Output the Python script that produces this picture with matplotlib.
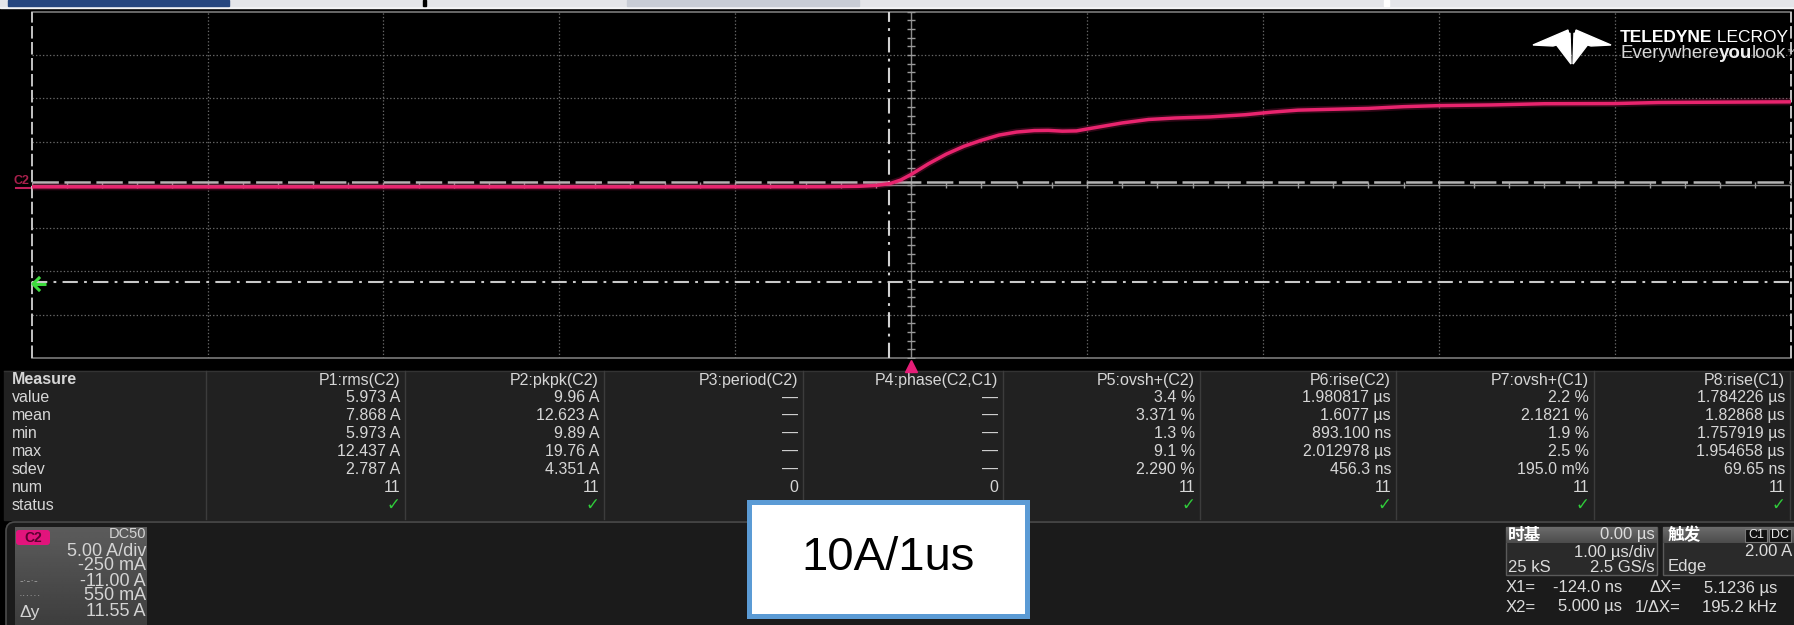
import numpy as np
import matplotlib.pyplot as plt
from matplotlib.patches import Rectangle, Polygon, FancyBboxPatch

plt.rcParams['font.family'] = ['Liberation Sans', 'DejaVu Sans', 'Noto Sans CJK SC']
plt.rcParams['lines.scale_dashes'] = False

W, H, DPI = 1794, 625, 100

# C2 current step, time in µs, current in A
t_us = [-5.0, -4.0, -3.0, -2.0, -1.0, -0.5, -0.3, -0.2, -0.12, -0.06, 0.0,
        0.1, 0.2, 0.3, 0.4, 0.5, 0.6, 0.7, 0.78, 0.86, 0.94, 1.0, 1.1, 1.2,
        1.35, 1.5, 1.7, 1.9, 2.05, 2.2, 2.4, 2.6, 2.8, 3.0, 3.3, 3.6, 4.0,
        4.25, 4.6, 5.0]
i_amp = [0.02, 0.01, 0.02, 0.01, 0.02, 0.03, 0.08, 0.18, 0.4, 0.8, 1.45,
         2.7, 3.8, 4.7, 5.4, 6.0, 6.35, 6.52, 6.54, 6.45, 6.48, 6.7, 7.05, 7.4,
         7.8, 7.97, 8.1, 8.35, 8.65, 8.88, 8.98, 9.08, 9.28, 9.4, 9.48, 9.62,
         9.64, 9.76, 9.8, 9.84]

# scope settings
t_div = 1.0        # µs/div
a_div = 5.0        # A/div
c2_offset = -0.25  # A
x1_us, x2_us = -0.124, 5.0
y1_amp, y2_amp = -11.0, 0.55

# measurement table
meas_names = ['P1:rms(C2)', 'P2:pkpk(C2)', 'P3:period(C2)', 'P4:phase(C2,C1)',
              'P5:ovsh+(C2)', 'P6:rise(C2)', 'P7:ovsh+(C1)', 'P8:rise(C1)']
meas_rows = ['value', 'mean', 'min', 'max', 'sdev', 'num', 'status']
p1 = ['5.973 A', '7.868 A', '5.973 A', '12.437 A', '2.787 A', '11']
p2 = ['9.96 A', '12.623 A', '9.89 A', '19.76 A', '4.351 A', '11']
p3 = ['—', '—', '—', '—', '—', '0']
p4 = ['—', '—', '—', '—', '—', '0']
p5 = ['3.4 %', '3.371 %', '1.3 %', '9.1 %', '2.290 %', '11']
p6 = ['1.980817 µs', '1.6077 µs', '893.100 ns', '2.012978 µs', '456.3 ns', '11']
p7 = ['2.2 %', '2.1821 %', '1.9 %', '2.5 %', '195.0 m%', '11']
p8 = ['1.784226 µs', '1.82868 µs', '1.757919 µs', '1.954658 µs', '69.65 ns', '11']
meas_values = [p1, p2, p3, p4, p5, p6, p7, p8]
meas_ok = [True, True, False, False, True, True, True, True]

fig = plt.figure(figsize=(W / DPI, H / DPI), dpi=DPI)
fig.patch.set_facecolor('black')
R = fig.canvas.get_renderer()


def pixel_layer(z):
    a = fig.add_axes([0, 0, 1, 1], zorder=z)
    a.set_xlim(0, W)
    a.set_ylim(H, 0)
    a.axis('off')
    a.patch.set_alpha(0)
    return a


# pixel-space layers: one under the grid, one over it
ov = pixel_layer(0)
top = pixel_layer(3)

# ---- waveform grid (10 x 8 div) ----
gl, gr, gt, gb = 31.7, 1790.5, 11.7, 358.0
ax = fig.add_axes([gl / W, 1 - gb / H, (gr - gl) / W, (gb - gt) / H], zorder=1)
ax.set_facecolor('black')
mid = -c2_offset
ax.set_xlim(-5 * t_div, 5 * t_div)
ax.set_ylim(mid - 4 * a_div, mid + 4 * a_div)
ax.set_xticks([])
ax.set_yticks([])
for s in ax.spines.values():
    s.set_visible(False)

grid_kw = dict(color='#666666', lw=0.9, ls=(0, (1, 1.5)))
for k in range(-4, 5):
    if k:
        ax.axvline(k * t_div, **grid_kw)
for k in (-3, -2, -1, 1, 2, 3):
    ax.axhline(mid + k * a_div, **grid_kw)
ax.axhline(mid + 4 * a_div, color='#7a7a7a', lw=1.2, clip_on=False)
ax.axhline(mid - 4 * a_div, color='#7a7a7a', lw=1.2, clip_on=False)

# center axes with minor ticks
ax.axvline(0, color='#8a8a8a', lw=1)
ax.axhline(mid, color='#8a8a8a', lw=1)
yt = mid + np.arange(-20, 21) * a_div / 5
xt = np.arange(-25, 26) * t_div / 5
ax.plot(np.zeros(len(yt)), yt, ls='none', marker='_', ms=6, mew=1, color='#9a9a9a')
ax.plot(xt, np.full(len(xt), mid), ls='none', marker='|', ms=5, mew=1, color='#9a9a9a')

# left edge and X2 cursor at the right edge
ax.axvline(-5 * t_div, color='#c4c4c4', lw=1.4, dashes=(9, 2.5), clip_on=False)
ax.axvline(x2_us, color='#c4c4c4', lw=1.4, dashes=(9, 2.5), clip_on=False)

# cursors
ax.axhline(y2_amp, color='#b4b4b4', lw=1.8, dashes=(19, 4))
ax.axhline(y1_amp, color='#c8c8c8', lw=1.5, dashes=(11, 4.5, 2, 4.5))
ax.axvline(x1_us, color='#d2d2d2', lw=1.5, dashes=(11, 4.5, 2, 4.5))

# C2 trace
ax.plot(t_us, i_amp, color='#e0206a', lw=5.0, alpha=0.22)
ax.plot(t_us, i_amp, color='#e8246e', lw=2.5)

# trigger position marker below the grid
ax.plot([0], [mid - 4 * a_div - 0.95], ls='none', marker='^', ms=8,
        color='#e61e78', clip_on=False)

# ground marker and Y1 cursor arrow
ov.plot([16, 31], [188, 188], color='#c0205c', lw=1.5)
ov.text(21, 181, 'C2', color='#a8204c', fontsize=9, fontweight='bold',
        ha='center', va='center')
top.plot([33, 46], [284, 284], color='#3ddc3d', lw=2.2, solid_capstyle='butt')
top.plot([39, 33, 39], [278, 284, 290], color='#3ddc3d', lw=2.2)

# ---- top toolbar strip ----
ov.add_patch(Rectangle((0, 0), W, 7.5, color='#f4f4f6'))
ov.add_patch(Rectangle((0, 0), W, 5.5, color='#e4e5e9'))
ov.add_patch(Rectangle((8, 0), 221, 5.5, color='#26467f'))
ov.add_patch(Rectangle((627, 0), 232, 5.5, color='#c8ccd5'))
ov.add_patch(Rectangle((1384, 0), 5, 5.5, color='white'))
ov.add_patch(Rectangle((423, 0), 2.5, 6, color='black'))


def run_text(layer, x, y, parts):
    # consecutive text pieces with different weights on one line
    for s, weight, color, size in parts:
        t = layer.text(x, y, s, fontweight=weight, color=color, fontsize=size,
                       ha='left', va='center')
        x += t.get_window_extent(renderer=R).width
    return x


# ---- logo ----
logo = [
    [(1533, 45), (1568, 30), (1570, 41), (1553, 46)],
    [(1555, 43), (1570, 33), (1571, 64)],
]
for poly in logo:
    top.add_patch(Polygon(poly, closed=True, color='white'))
    top.add_patch(Polygon([(3144 - px, py) for px, py in poly], closed=True,
                          color='white'))
run_text(top, 1620, 38, [('TELEDYNE', 'bold', 'white', 12.5),
                         (' LECROY', 'normal', 'white', 12.5)])
run_text(top, 1620, 53, [('Everywhere', 'normal', '#d8d8d8', 13.5),
                         ('you', 'bold', '#f0f0f0', 13.5),
                         ('look', 'normal', '#d8d8d8', 13.5),
                         ('™', 'normal', '#d8d8d8', 6)])

# ---- measurement table ----
seps = [206, 405, 604, 803, 1003, 1200, 1396, 1594, 1790]
row_y = [380 + 17.9 * k for k in range(8)]
ov.add_patch(Rectangle((4, 371), W - 4, 149, color='#212121'))
ov.plot([4, W], [371, 371], color='#333333', lw=1)
for sx in seps:
    ov.plot([sx, sx], [371, 519], color='#3c3c3c', lw=1)

txt = '#d6d6d6'
fs_tab = 11.5
ov.text(12, row_y[0], 'Measure', color=txt, fontsize=fs_tab, fontweight='bold',
        va='center')
for r, name in enumerate(meas_rows):
    ov.text(12, row_y[r + 1], name, color=txt, fontsize=fs_tab, va='center')
for c, (name, vals) in enumerate(zip(meas_names, meas_values)):
    rx = seps[c + 1] - 5
    ov.text(rx, row_y[0], name, color=txt, fontsize=fs_tab, ha='right', va='center')
    for r, v in enumerate(vals):
        ov.text(rx, row_y[r + 1], v, color=txt, fontsize=fs_tab, ha='right', va='center')
    if meas_ok[c]:
        ov.text(rx, row_y[7], '✓', color='#2fcc3a', fontsize=12, fontweight='bold',
                ha='right', va='center', family='DejaVu Sans')

# ---- descriptor panel ----
ov.add_patch(FancyBboxPatch((6, 522), W + 20, 120, boxstyle='round,pad=0,rounding_size=9',
                            facecolor='#1b1b1b', edgecolor='#4c4c4c', lw=1.2))

# C2 channel descriptor
grad = np.linspace(0.36, 0.24, 50)[:, None] * np.ones((1, 10))
ov.imshow(grad, extent=(15, 147, 627, 527), cmap='gray', vmin=0, vmax=1,
          aspect='auto', zorder=2, interpolation='bilinear')
ov.add_patch(FancyBboxPatch((16, 530), 34, 15, boxstyle='round,pad=0,rounding_size=3',
                            facecolor='#e2147c', edgecolor='none', zorder=3))
ov.text(33, 537.5, 'C2', color='#5c0030', fontsize=10, fontweight='bold',
        ha='center', va='center', zorder=4)
c2_lines = [('DC50', 534, 10.5), ('5.00 A/div', 551, 13), ('-250 mA', 566, 13),
            ('-11.00 A', 581, 13), ('550 mA', 596, 13), ('11.55 A', 612, 13)]
for s, y, fs in c2_lines:
    ov.text(146, y, s, color='#d4d4d4', fontsize=fs, ha='right', va='center', zorder=4)
ov.text(19, 581, '-·-·-', color='#a8a8a8', fontsize=8, va='center', zorder=4)
ov.text(19, 596, '······', color='#a8a8a8', fontsize=8, va='center', zorder=4)
ov.text(19, 612, 'Δy', color='#d4d4d4', fontsize=12.5, va='center', zorder=4)


def desc_box(x0, x1, y0, y1, hdr):
    ov.add_patch(Rectangle((x0, y0), x1 - x0, y1 - y0, facecolor='#2a2a2a',
                           edgecolor='#5a5a5a', lw=1, zorder=2))
    g = np.linspace(0.42, 0.30, 20)[:, None] * np.ones((1, 10))
    ov.imshow(g, extent=(x0, x1, y0 + hdr, y0), cmap='gray', vmin=0, vmax=1,
              aspect='auto', zorder=2.5, interpolation='bilinear')


desc_box(1506, 1657, 527, 575, 16)
desc_box(1663, 1800, 527, 575, 16)
ov.set_xlim(0, W)
ov.set_ylim(H, 0)

ov.text(1508, 535, '时基', color='white', fontsize=12, fontweight='bold',
        va='center', family='Noto Sans CJK SC', zorder=4)
ov.text(1655, 535, '0.00 µs', color='#dcdcdc', fontsize=12, ha='right', va='center', zorder=4)
ov.text(1655, 552, '1.00 µs/div', color='#dcdcdc', fontsize=12, ha='right', va='center', zorder=4)
ov.text(1508, 567, '25 kS', color='#dcdcdc', fontsize=12, va='center', zorder=4)
ov.text(1655, 567, '2.5 GS/s', color='#dcdcdc', fontsize=12, ha='right', va='center', zorder=4)

ov.text(1668, 535, '触发', color='white', fontsize=12, fontweight='bold',
        va='center', family='Noto Sans CJK SC', zorder=4)
for s, bx in (('C1', 1745), ('DC', 1769)):
    ov.add_patch(Rectangle((bx, 529), 22, 13, facecolor='#111111', edgecolor='#777777',
                           lw=0.8, zorder=4))
    ov.text(bx + 11, 535.5, s, color='#e6e6e6', fontsize=9, ha='center', va='center',
            zorder=5)
ov.text(1792, 552, '2.00 A', color='#dcdcdc', fontsize=12, ha='right', va='center', zorder=4)
ov.text(1668, 567, 'Edge', color='#dcdcdc', fontsize=12, va='center', zorder=4)

# cursor readout
cur = [(588, 'X1=', '-124.0 ns', 'ΔX=', '5.1236 µs'),
       (607, 'X2=', '5.000 µs', '1/ΔX=', '195.2 kHz')]
for y, a, b, c, d in cur:
    ov.text(1506, y, a, color='#dcdcdc', fontsize=12, va='center', zorder=4)
    ov.text(1622, y, b, color='#dcdcdc', fontsize=12, ha='right', va='center', zorder=4)
    ov.text(1681, y, c, color='#dcdcdc', fontsize=12, ha='right', va='center', zorder=4)
    ov.text(1777, y, d, color='#dcdcdc', fontsize=12, ha='right', va='center', zorder=4)

# ---- slew-rate callout ----
top.add_patch(Rectangle((748.5, 501.5), 278, 114, facecolor='white',
                        edgecolor='#5b9bd5', lw=3.6))
top.text(888, 558, '10A/1us', color='black', fontsize=34, ha='center', va='center')

fig.savefig('out.png', dpi=DPI, facecolor=fig.get_facecolor())
